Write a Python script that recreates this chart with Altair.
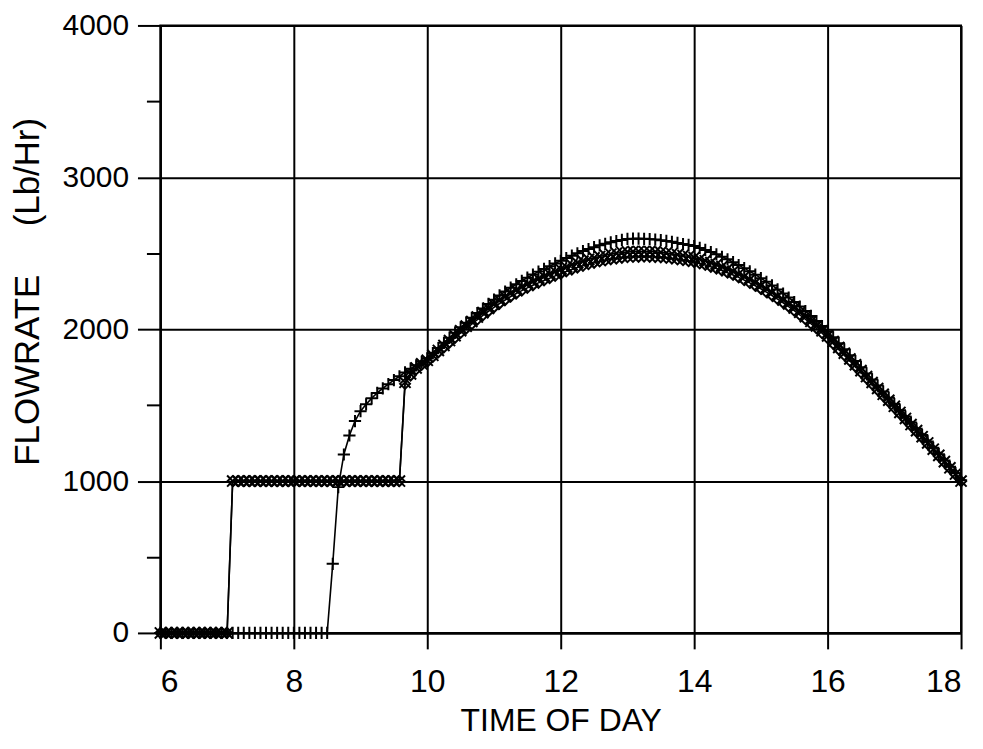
import altair as alt
import pandas as pd

# sample times: minutes after 06:00, one reading every 5 minutes (06:00 .. 18:00)
minutes = list(range(0, 721, 5))

# common curve portion, 10:00 .. 18:00 (5-minute readings)
band_mid = [
    1795, 1828, 1860, 1893, 1925, 1957, 1990, 2020, 2050, 2080, 2109, 2137,
    2164, 2190, 2214, 2237, 2258, 2278, 2297, 2315, 2332, 2348, 2364, 2380,
    2395, 2410, 2424, 2437, 2449, 2460, 2470, 2479, 2487, 2494, 2500, 2505,
    2509, 2511, 2512, 2512, 2511, 2509, 2506, 2502, 2497, 2491, 2485, 2479,
    2472, 2462, 2451, 2439, 2426, 2412, 2397, 2381, 2364, 2346, 2327, 2307,
    2286, 2264, 2241, 2217, 2192, 2166, 2139, 2111, 2082, 2052, 2021, 1989,
    1956, 1918, 1880, 1842, 1804, 1766, 1727, 1688, 1649, 1610, 1571, 1532,
    1492, 1452, 1412, 1372, 1332, 1292, 1251, 1210, 1169, 1128, 1087, 1046,
    1000,
]
band_high = [
    1808, 1842, 1876, 1910, 1944, 1977, 2012, 2043, 2075, 2106, 2136, 2166,
    2194, 2222, 2248, 2273, 2296, 2318, 2339, 2360, 2379, 2397, 2415, 2433,
    2450, 2468, 2484, 2500, 2514, 2528, 2540, 2552, 2562, 2572, 2580, 2588,
    2594, 2596, 2596, 2595, 2593, 2590, 2586, 2581, 2575, 2568, 2561, 2555,
    2547, 2535, 2522, 2508, 2493, 2477, 2460, 2441, 2422, 2402, 2381, 2359,
    2336, 2312, 2288, 2262, 2235, 2208, 2179, 2149, 2119, 2087, 2054, 2021,
    1986, 1947, 1908, 1868, 1829, 1790, 1750, 1709, 1669, 1629, 1589, 1548,
    1507, 1466, 1425, 1385, 1344, 1303, 1261, 1219, 1177, 1136, 1094, 1052,
    1005,
]
band_low = [
    1785, 1817, 1848, 1881, 1912, 1943, 1975, 2004, 2033, 2063, 2091, 2118,
    2144, 2169, 2192, 2215, 2235, 2254, 2272, 2289, 2305, 2321, 2336, 2351,
    2365, 2380, 2393, 2406, 2417, 2428, 2437, 2446, 2453, 2460, 2465, 2470,
    2474, 2476, 2477, 2478, 2477, 2475, 2473, 2469, 2465, 2459, 2454, 2448,
    2442, 2433, 2423, 2411, 2399, 2386, 2372, 2357, 2341, 2323, 2305, 2286,
    2266, 2244, 2222, 2198, 2174, 2148, 2122, 2094, 2066, 2036, 2006, 1974,
    1941, 1904, 1866, 1829, 1791, 1754, 1715, 1676, 1638, 1599, 1560, 1522,
    1482, 1443, 1403, 1364, 1324, 1285, 1244, 1204, 1163, 1123, 1083, 1043,
    998,
]

# early parts (06:00 .. 09:55)
plus_start = [0] * 31 + [455, 960, 1175, 1300, 1395, 1460, 1505, 1545, 1580,
                         1610, 1638, 1665, 1690, 1715, 1740, 1762, 1785]
cross_start = [0] * 13 + [1000] * 31 + [1650, 1705, 1745, 1772]
diamond_start = [0] * 13 + [1000] * 31 + [1640, 1695, 1735, 1765]

series_values = {
    "plus": plus_start + band_high,
    "cross": cross_start + band_mid,
    "diamond": diamond_start + band_low,
}

rows = []
for name, vals in series_values.items():
    for m, v in zip(minutes, vals):
        rows.append({"time": 6 + m / 60.0, "flow": v, "series": name})
df = pd.DataFrame(rows)

x_ticks = [6, 8, 10, 12, 14, 16, 18]
y_ticks = [0, 500, 1000, 1500, 2000, 2500, 3000, 3500, 4000]

SANS = "Liberation Sans, Arial, Helvetica, sans-serif"

PLUS = "M-1,0L1,0M0,-1L0,1"
XMARK = "M-1,-1L1,1M-1,1L1,-1"

is_major = "datum.value % 1000 === 0"

x_enc = alt.X(
    "time:Q",
    scale=alt.Scale(domain=[6, 18], nice=False, zero=False),
    axis=alt.Axis(
        values=x_ticks,
        format="d",
        title="TIME OF DAY",
        grid=True,
        gridColor="black",
        gridWidth=2,
        gridOpacity=1,
        domainColor="black",
        domainWidth=2,
        tickColor="black",
        tickWidth=2,
        tickSize=16,
        labelFont=SANS,
        labelFontSize=32,
        labelColor="black",
        labelPadding=18,
        titleFont=SANS,
        titleFontSize=32,
        titleFontWeight="normal",
        titleColor="black",
        titleBaseline="top",
        titleY=73,
    ),
)
y_enc = alt.Y(
    "flow:Q",
    scale=alt.Scale(domain=[0, 4000], nice=False),
    axis=alt.Axis(
        values=y_ticks,
        format="d",
        labelExpr=f"{is_major} ? datum.label : ''",
        title="FLOWRATE\u00a0\u00a0\u00a0\u00a0\u00a0(Lb/Hr)",
        grid=True,
        gridColor="black",
        gridWidth=2,
        gridOpacity={"condition": {"test": is_major, "value": 1}, "value": 0},
        domainColor="black",
        domainWidth=2,
        tickColor="black",
        tickWidth=2,
        tickSize={"condition": {"test": is_major, "value": 23}, "value": 14},
        labelFont=SANS,
        labelFontSize=30,
        labelColor="black",
        labelPadding=9,
        titleFont=SANS,
        titleFontSize=35,
        titleFontWeight="normal",
        titleColor="black",
        titleAngle=270,
        titleAlign="center",
        titleBaseline="middle",
        titleX=-133,
        titleY=267,
    ),
)

base = alt.Chart(df).encode(x=x_enc, y=y_enc, detail="series:N")

lines = base.mark_line(color="black", strokeWidth=1.6)

points = base.mark_point(filled=False, color="black", strokeWidth=2, opacity=1).encode(
    shape=alt.Shape(
        "series:N",
        scale=alt.Scale(domain=["plus", "cross", "diamond"], range=[PLUS, XMARK, "diamond"]),
        legend=None,
    ),
    size=alt.Size(
        "series:N",
        scale=alt.Scale(domain=["plus", "cross", "diamond"], range=[150, 100, 90]),
        legend=None,
    ),
)

chart = (
    alt.layer(lines, points)
    .properties(
        width=804,
        height=610,
        autosize=alt.AutoSizeParams(type="none"),
        padding={"left": 153, "top": 16, "right": 14, "bottom": 104},
        background="white",
    )
    .configure_view(stroke="black", strokeWidth=2)
)

chart.save("out.html", embed_options={"renderer": "svg", "actions": False})
